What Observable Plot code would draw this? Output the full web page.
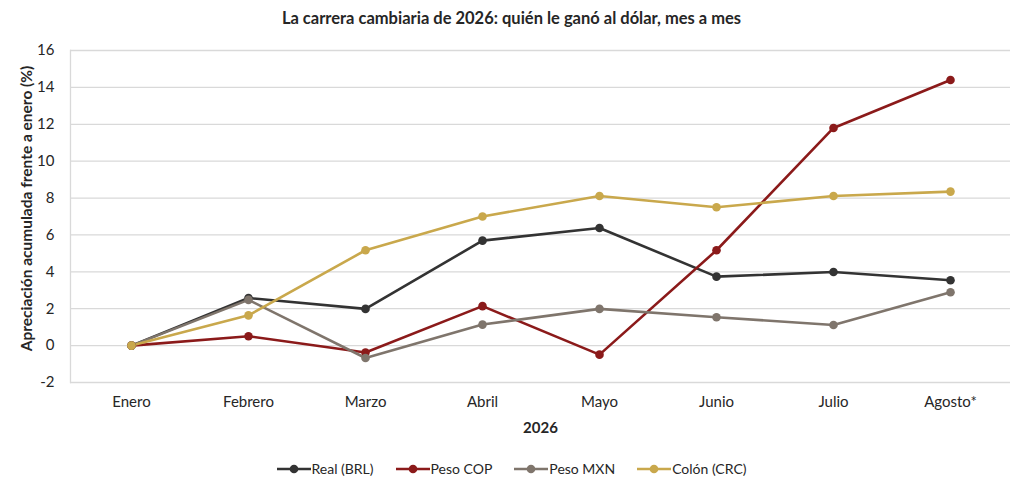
<!DOCTYPE html>
<html>
<head>
<meta charset="utf-8">
<script src="https://cdn.jsdelivr.net/npm/d3@7"></script>
<script src="https://cdn.jsdelivr.net/npm/@observablehq/plot@0.6"></script>
<style>
  html, body { margin: 0; padding: 0; background: #fff; }
  body { width: 1023px; height: 487px; overflow: hidden; font-family: Lato, "Noto Sans", sans-serif; color: #262626; }
  #title { height: 36px; line-height: 36px; text-align: center; font-size: 16.5px; font-weight: 700; color: #262626; }
  #chart svg { display: block; }
  #legend { display: flex; justify-content: center; gap: 22px; font-size: 14px; color: #262626; margin-top: 14px; }
  .item { display: flex; align-items: center; gap: 1px; }
</style>
</head>
<body>
<div id="title">La carrera cambiaria de 2026: quién le ganó al dólar, mes a mes</div>
<div id="chart"></div>
<div id="legend"></div>
<script>
const months = ["Enero", "Febrero", "Marzo", "Abril", "Mayo", "Junio", "Julio", "Agosto*"];
const seriesNames = ["Real (BRL)", "Peso COP", "Peso MXN", "Colón (CRC)"];
const seriesColors = ["#333333", "#8b1a1a", "#7f756c", "#c9a84c"];
const brl = [0, 2.58, 1.99, 5.69, 6.38, 3.74, 3.99, 3.54];
const cop = [0, 0.51, -0.37, 2.14, -0.49, 5.17, 11.8, 14.4];
const mxn = [0, 2.48, -0.67, 1.14, 1.99, 1.54, 1.12, 2.89];
const crc = [0, 1.64, 5.17, 7.0, 8.11, 7.5, 8.11, 8.35];
const yTicks = [-2, 0, 2, 4, 6, 8, 10, 12, 14, 16];
const xTitle = "2026";
const yTitle = "Apreciación acumulada frente a enero (%)";

const values = [brl, cop, mxn, crc];
const data = [];
seriesNames.forEach((s, i) => months.forEach((m, j) => data.push({serie: s, mes: m, valor: values[i][j]})));

const chart = Plot.plot({
  width: 1023,
  height: 410,
  marginTop: 14,
  marginLeft: 70,
  marginRight: 13,
  marginBottom: 64,
  style: {fontFamily: "Lato, 'Noto Sans', sans-serif", fontSize: "15px", color: "#262626", background: "#fff"},
  x: {type: "point", domain: months, padding: 0.5, label: null},
  y: {domain: [-2, 16], ticks: yTicks, label: null},
  color: {domain: seriesNames, range: seriesColors},
  marks: [
    Plot.ruleY(yTicks, {stroke: "#d9d9d9", strokeWidth: 1.3}),
    Plot.frame({anchor: "left", stroke: "#d9d9d9", strokeWidth: 1.3}),
    Plot.axisY({ticks: yTicks, tickSize: 0, tickPadding: 16, fontSize: 15, fill: "#262626", label: null, tickFormat: d => String(d)}),
    Plot.axisX({tickSize: 0, tickPadding: 14, fontSize: 15, fill: "#262626", label: null}),
    Plot.text([xTitle], {frameAnchor: "bottom", dy: 50, fontWeight: "bold", fontSize: 15, fill: "#262626"}),
    Plot.text([yTitle], {frameAnchor: "left", textAnchor: "middle", dx: -43, dy: -8, rotate: -90, fontWeight: "bold", fontSize: 15.5, fill: "#262626"}),
    Plot.line(data, {x: "mes", y: "valor", z: "serie", stroke: "serie", strokeWidth: 2.6}),
    Plot.dot(data, {x: "mes", y: "valor", fill: "serie", r: 4.3})
  ]
});
document.getElementById("chart").appendChild(chart);

const legend = document.getElementById("legend");
seriesNames.forEach((s, i) => {
  const it = document.createElement("div");
  it.className = "item";
  it.innerHTML = `<svg width="34" height="12"><line x1="0" x2="34" y1="6" y2="6" stroke="${seriesColors[i]}" stroke-width="2.6"/><circle cx="17" cy="6" r="4.3" fill="${seriesColors[i]}"/></svg><span>${s}</span>`;
  legend.appendChild(it);
});
</script>
</body>
</html>
